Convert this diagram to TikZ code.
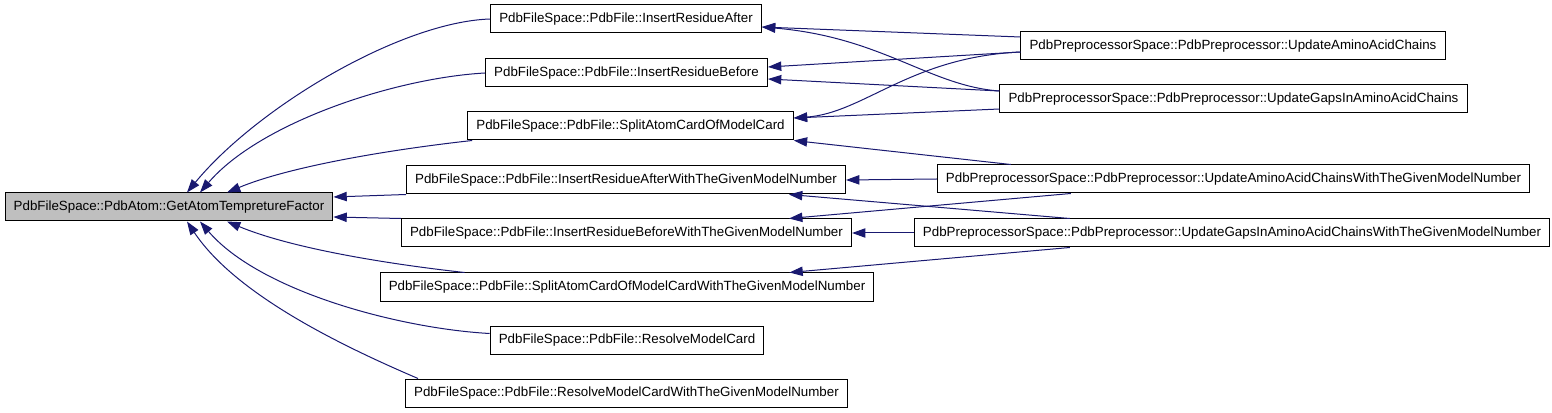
\documentclass[tikz,border=0pt]{standalone}
\usepackage{fontspec}
\setmainfont{Liberation Sans}
\usetikzlibrary{arrows.meta,calc}
\definecolor{edgeblue}{HTML}{191970}
\begin{document}
\begin{tikzpicture}[x=0.75pt,y=-0.75pt,
		fn/.style={draw, font=\fontsize{10}{12}\selectfont, inner xsep=6.5pt, minimum height=21pt, line width=0.75pt},
		current/.style={fn, fill=black!25},
		call/.style={draw=edgeblue, line width=0.75pt, -{Triangle[length=10pt,width=7pt,fill=edgeblue]}}
		]
	\useasboundingbox (0,0) rectangle (1552,413);
	\node [current] (atom) at (169,207) {PdbFileSpace::PdbAtom::GetAtomTempretureFactor};
	\node [fn] (ira) at (626,19) {PdbFileSpace::PdbFile::InsertResidueAfter};
	\node [fn] (irb) at (626.5,73) {PdbFileSpace::PdbFile::InsertResidueBefore};
	\node [fn] (sac) at (630.5,126) {PdbFileSpace::PdbFile::SplitAtomCardOfModelCard};
	\node [fn] (iraw) at (626,180) {PdbFileSpace::PdbFile::InsertResidueAfterWithTheGivenModelNumber};
	\node [fn] (irbw) at (626.5,233) {PdbFileSpace::PdbFile::InsertResidueBeforeWithTheGivenModelNumber};
	\node [fn] (sacw) at (627,287) {PdbFileSpace::PdbFile::SplitAtomCardOfModelCardWithTheGivenModelNumber};
	\node [fn] (rmc) at (627,340.5) {PdbFileSpace::PdbFile::ResolveModelCard};
	\node [fn] (rmcw) at (626.5,393) {PdbFileSpace::PdbFile::ResolveModelCardWithTheGivenModelNumber};
	\node [fn] (uac) at (1233,46) {PdbPreprocessorSpace::PdbPreprocessor::UpdateAminoAcidChains};
	\node [fn] (ug) at (1233.5,99) {PdbPreprocessorSpace::PdbPreprocessor::UpdateGapsInAminoAcidChains};
	\node [fn] (uacw) at (1233.5,179) {PdbPreprocessorSpace::PdbPreprocessor::UpdateAminoAcidChainsWithTheGivenModelNumber};
	\node [fn] (ugw) at (1232,233) {PdbPreprocessorSpace::PdbPreprocessor::UpdateGapsInAminoAcidChainsWithTheGivenModelNumber};

	\draw [call] (ira.west) .. controls +(-90,3) and +(70,-85) .. ($(atom.north)+(18,0)$);
	\draw [call] (irb.west) .. controls +(-90,5) and +(60,-70) .. ($(atom.north)+(31,0)$);
	\draw [call] ($(sac.south west)+(5,0)$) .. controls +(-90,10) and +(60,-25) .. ($(atom.north)+(58,0)$);
	\draw [call] (iraw.south west) -- ($(atom.east)+(0,-10)$);
	\draw [call] (irbw.north west) -- ($(atom.east)+(0,10)$);
	\draw [call] ($(sacw.north west)+(85,0)$) .. controls +(-90,-10) and +(60,25) .. ($(atom.south)+(58,0)$);
	\draw [call] ($(rmc.west)+(0,-7)$) .. controls +(-90,-5) and +(60,70) .. ($(atom.south)+(31,0)$);
	\draw [call] ($(rmcw.north west)+(13,0)$) .. controls +(-70,-30) and +(50,75) .. ($(atom.south)+(18,0)$);

	\draw [call] ($(uac.west)+(0,-9)$) -- ($(ira.east)+(0,8)$);
	\draw [call] ($(ug.west)+(0,-8)$) .. controls +(-70,-5) and +(120,10) .. ($(ira.east)+(0,8)$);
	\draw [call] ($(uac.west)+(0,6)$) -- ($(irb.east)+(0,-6)$);
	\draw [call] ($(ug.west)+(0,-8)$) -- ($(irb.east)+(0,6)$);
	\draw [call] ($(uac.west)+(0,6)$) .. controls +(-110,5) and +(70,-5) .. ($(sac.east)+(0,-8)$);
	\draw [call] ($(ug.west)+(0,10)$) -- ($(sac.east)+(0,-8)$);
	\draw [call] ($(uacw.north west)+(74,0)$) -- (sac.south east);
	\draw [call] (uacw.west) -- (iraw.east);
	\draw [call] ($(ugw.north west)+(156,0)$) -- ($(iraw.south east)+(-57,0)$);
	\draw [call] (ugw.west) -- (irbw.east);
	\draw [call] ($(uacw.south west)+(134,0)$) -- ($(irbw.north east)+(-63,0)$);
	\draw [call] ($(ugw.south west)+(156,0)$) -- ($(sacw.north east)+(-85,0)$);
\end{tikzpicture}
\end{document}
